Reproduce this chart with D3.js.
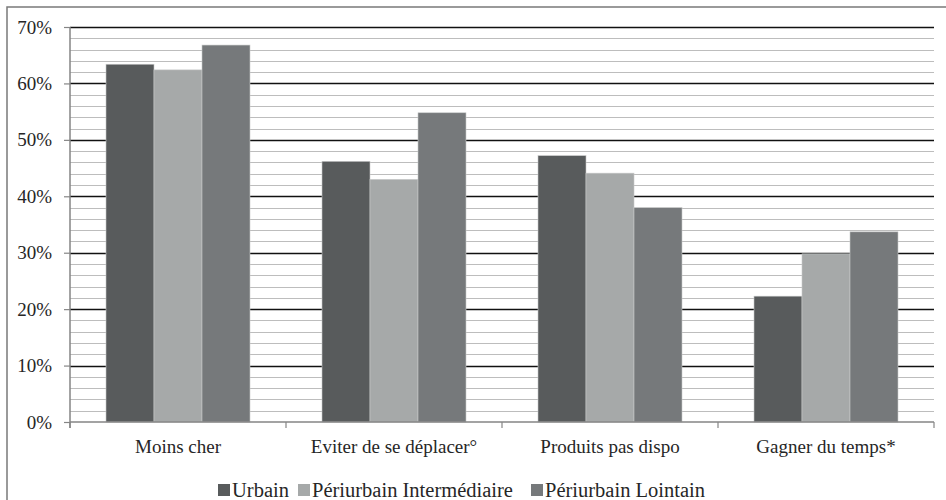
<!DOCTYPE html>
<html>
<head>
<meta charset="utf-8">
<script src="https://cdn.jsdelivr.net/npm/d3@7"></script>
<style>
  html, body { margin: 0; padding: 0; background: #fff; }
  svg { display: block; }
  svg text { font-family: "Liberation Serif", "Times New Roman", serif; fill: #262626; }
</style>
</head>
<body>
<svg id="chart" width="946" height="500"></svg>
<script>
const categories = ["Moins cher", "Eviter de se déplacer°", "Produits pas dispo", "Gagner du temps*"];
const seriesNames = ["Urbain", "Périurbain Intermédiaire", "Périurbain Lointain"];
const urbain = [63.4, 46.2, 47.2, 22.3];
const periInter = [62.4, 43.0, 44.1, 29.8];
const periLointain = [66.8, 54.8, 38.0, 33.7];
const yTicks = [0, 10, 20, 30, 40, 50, 60, 70];
const colors = ["#585b5c", "#a6a9a9", "#76797b"];

const seriesValues = [urbain, periInter, periLointain];
const svg = d3.select("#chart");
const W = 946, H = 500;
const m = { left: 70, right: 12, top: 27, bottom: 78 };

svg.append("rect").attr("x", 7).attr("y", 7).attr("width", W).attr("height", H)
  .attr("fill", "none").attr("stroke", "#7a7a7a").attr("stroke-width", 1.5);

const x0 = d3.scaleBand().domain(categories).range([m.left, W - m.right]);
const x1 = d3.scaleBand().domain(seriesNames)
  .range([x0.bandwidth() * (36 / 216), x0.bandwidth() * (180 / 216)]);
const y = d3.scaleLinear().domain([0, 70]).range([H - m.bottom, m.top]);

const minor = d3.range(2, 70, 2).filter(v => v % 10 !== 0);
svg.append("g").selectAll("line").data(minor).join("line")
  .attr("x1", m.left).attr("x2", W - m.right)
  .attr("y1", d => Math.round(y(d)) + 0.5).attr("y2", d => Math.round(y(d)) + 0.5)
  .attr("stroke", "#bdbdbd").attr("stroke-width", 1.2);
svg.append("g").selectAll("line").data(yTicks.filter(v => v > 0)).join("line")
  .attr("x1", m.left).attr("x2", W - m.right)
  .attr("y1", d => Math.round(y(d)) + 0.5).attr("y2", d => Math.round(y(d)) + 0.5)
  .attr("stroke", "#111").attr("stroke-width", 1.3);

const groups = svg.append("g").selectAll("g").data(categories).join("g")
  .attr("transform", d => `translate(${x0(d)},0)`);
groups.selectAll("rect").data((c, i) => seriesNames.map((s, j) => ({ s, j, v: seriesValues[j][i] })))
  .join("rect")
  .attr("x", d => x1(d.s)).attr("width", x1.bandwidth())
  .attr("y", d => y(d.v)).attr("height", d => y(0) - y(d.v))
  .attr("fill", d => colors[d.j])
  .attr("stroke", "#c8caca").attr("stroke-width", 0.6);

const yAxis = d3.axisLeft(y).tickValues(yTicks).tickFormat(d => d + "%").tickSize(6).tickPadding(12);
const gy = svg.append("g").attr("transform", `translate(${m.left},0)`).call(yAxis);
gy.attr("font-family", null);
gy.select(".domain").attr("stroke", "#858585").attr("stroke-width", 1.5).attr("d", `M0,${y(70)}V${y(0) + 6}`);
gy.selectAll(".tick line").attr("stroke", "#858585").attr("stroke-width", 1.2);
gy.selectAll(".tick text").attr("font-size", 19).attr("fill", "#262626");

const gx = svg.append("g").attr("transform", `translate(0,${y(0)})`);
gx.append("line").attr("x1", m.left).attr("x2", W - m.right).attr("y1", 0).attr("y2", 0)
  .attr("stroke", "#858585").attr("stroke-width", 1.5);
const bounds = categories.map(c => x0(c)).concat([x0(categories[categories.length - 1]) + x0.bandwidth()]);
gx.selectAll("line.b").data(bounds).join("line").attr("class", "b")
  .attr("x1", d => d).attr("x2", d => d).attr("y1", 0).attr("y2", 6)
  .attr("stroke", "#858585").attr("stroke-width", 1.2);
gx.selectAll("text").data(categories).join("text")
  .attr("x", d => x0(d) + x0.bandwidth() / 2).attr("y", 31)
  .attr("text-anchor", "middle").attr("font-size", 19).text(d => d);

const legendX = [218, 298, 531];
const lg = svg.append("g").selectAll("g").data(seriesNames).join("g")
  .attr("transform", (d, i) => `translate(${legendX[i]},484)`);
lg.append("rect").attr("width", 12).attr("height", 12).attr("fill", (d, i) => colors[i]);
lg.append("text").attr("x", 14).attr("y", 13).attr("font-size", 20.5).text(d => d);
</script>
</body>
</html>
